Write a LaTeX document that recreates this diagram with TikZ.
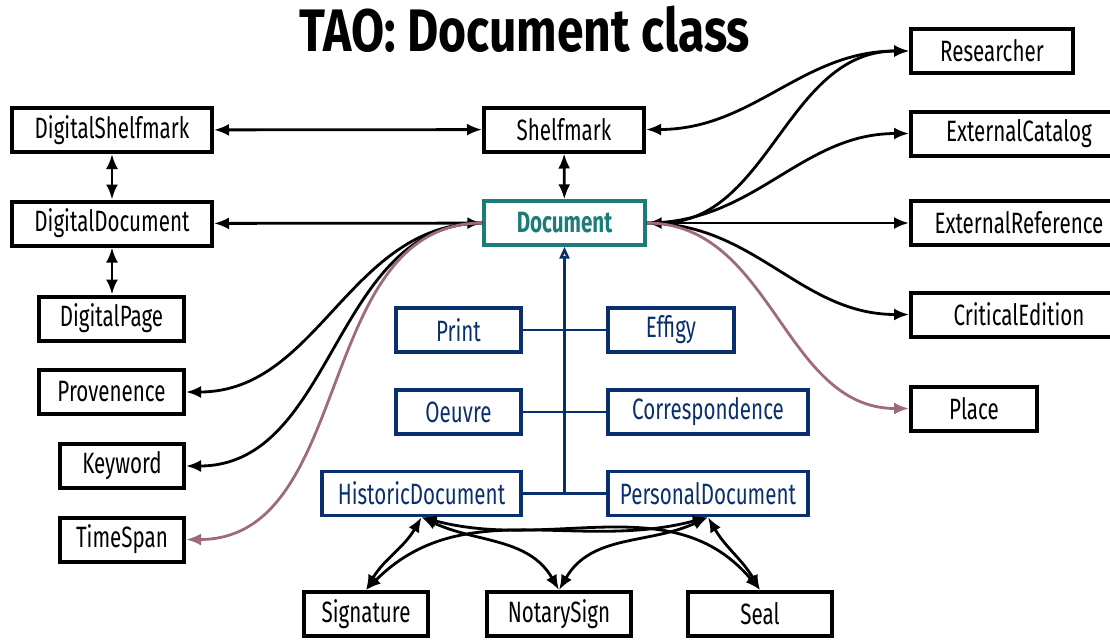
\documentclass[tikz,border=0pt]{standalone}
\usepackage{fontspec}
\setmainfont{Fira Sans}[FakeStretch=0.7]
\newfontfamily\titlefont{Fira Sans}[FakeStretch=0.8]
\usetikzlibrary{arrows.meta}

\definecolor{docteal}{RGB}{28,124,120}
\definecolor{navy}{RGB}{10,47,110}
\definecolor{mauve}{RGB}{160,106,126}

\begin{document}
\begin{tikzpicture}[x=0.5pt, y=-0.5pt, >={Latex[length=7.5pt,width=6pt]},
    cls/.style={draw, line width=2pt, minimum height=22pt, inner sep=0pt,
        font=\fontsize{14.7}{17}\selectfont},
    sub/.style={cls, draw=navy, text=navy, line width=1.7pt},
    rel/.style={line width=1.4pt},
    mrel/.style={line width=1.4pt, mauve},
    isa/.style={line width=1.3pt, navy}]

    \useasboundingbox (0,0) rectangle (1110,639);

    % title
    \node[anchor=base, font=\titlefont\fontsize{30}{34}\selectfont\bfseries] (title) at (525,51) {TAO: Document class};

    % digital side
    \node[cls, minimum width=100pt] (dshelf) at (112,130) {DigitalShelfmark};
    \node[cls, minimum width=100pt] (ddoc) at (112,223.5) {DigitalDocument};
    \node[cls, minimum width=72.5pt] (dpage) at (111.5,318.5) {DigitalPage};

    % left properties
    \node[cls, minimum width=72.5pt] (prov) at (111.5,392) {Provenence};
    \node[cls, minimum width=62pt] (kw) at (122,466) {Keyword};
    \node[cls, minimum width=62pt] (tspan) at (122,539.5) {TimeSpan};

    % centre
    \node[cls, minimum width=80pt] (shelf) at (564,129.5) {Shelfmark};
    \node[cls, minimum width=80.5pt, draw=docteal, text=docteal, line width=1.7pt,
        font=\fontsize{14.7}{17}\selectfont\bfseries] (doc) at (564.5,223) {Document};

    % right properties
    \node[cls, minimum width=81pt] (res) at (992,51) {Researcher};
    \node[cls, minimum width=108pt] (extcat) at (1019,133.5) {ExternalCatalog};
    \node[cls, minimum width=108pt] (extref) at (1019,223) {ExternalReference};
    \node[cls, minimum width=108pt] (crit) at (1019,314.5) {CriticalEdition};
    \node[cls, minimum width=63pt] (place) at (974,408.5) {Place};

    % subclasses
    \node[sub, minimum width=62.5pt] (print) at (458.5,330) {Print};
    \node[sub, minimum width=63pt] (effigy) at (671,330) {Effigy};
    \node[sub, minimum width=62.5pt] (oeuvre) at (458.5,412) {Oeuvre};
    \node[sub, minimum width=100pt] (corr) at (708,412) {Correspondence};
    \node[sub, minimum width=99.5pt] (hist) at (421.5,493.5) {HistoricDocument};
    \node[sub, minimum width=100pt] (pers) at (708,493.5) {PersonalDocument};

    % marks
    \node[cls, minimum width=62pt] (sig) at (366,614) {Signature};
    \node[cls, minimum width=72pt] (notary) at (559,614) {NotarySign};
    \node[cls, minimum width=72pt] (seal) at (760,614) {Seal};

    % digital links
    \draw[rel, <->] (dshelf) -- (shelf);
    \draw[rel, <->] (dshelf) -- (ddoc);
    \draw[rel, <->] (ddoc.south) -- (ddoc.south |- dpage.north);
    \draw[rel, <->] (ddoc) -- (doc);
    \draw[rel, <->] (shelf) -- (doc);

    % left curves
    \draw[rel, ->] (doc.west) to[out=180, in=0] (prov.east);
    \draw[rel, ->] (doc.west) to[out=180, in=0] (kw.east);
    \draw[mrel, ->] (doc.west) to[out=180, in=0] (tspan.east);

    % right curves
    \draw[rel, <->] (shelf.east) to[out=0, in=180] (res.west);
    \draw[rel, <->] (doc.east) to[out=0, in=180] (res.west);
    \draw[rel, ->] (doc.east) to[out=0, in=180] (extcat.west);
    \draw[rel, ->] (doc) -- (extref);
    \draw[rel, ->] (doc.east) to[out=0, in=180] (crit.west);
    \draw[mrel, ->] (doc.east) to[out=0, in=180] (place.west);

    % class hierarchy
    \coordinate (trunk) at (doc.south |- hist.east);
    \draw[isa, -{Triangle[open, length=6pt, width=5pt]}] (trunk) -- (doc.south);
    \draw[isa] (print) -- (effigy);
    \draw[isa] (oeuvre) -- (corr);
    \draw[isa] (hist) -- (pers);

    % marks on documents
    \draw[rel, <->] (hist.south) to[out=-120, in=60] (sig.north);
    \draw[rel, <->] (hist.south) to[out=-25, in=120] (notary.north);
    \draw[rel, <->] (hist.south) to[out=-15, in=130] (seal.north);
    \draw[rel, <->] (pers.south) to[out=-165, in=45] (sig.north);
    \draw[rel, <->] (pers.south) to[out=-155, in=60] (notary.north);
    \draw[rel, <->] (pers.south) to[out=-60, in=120] (seal.north);

\end{tikzpicture}
\end{document}
